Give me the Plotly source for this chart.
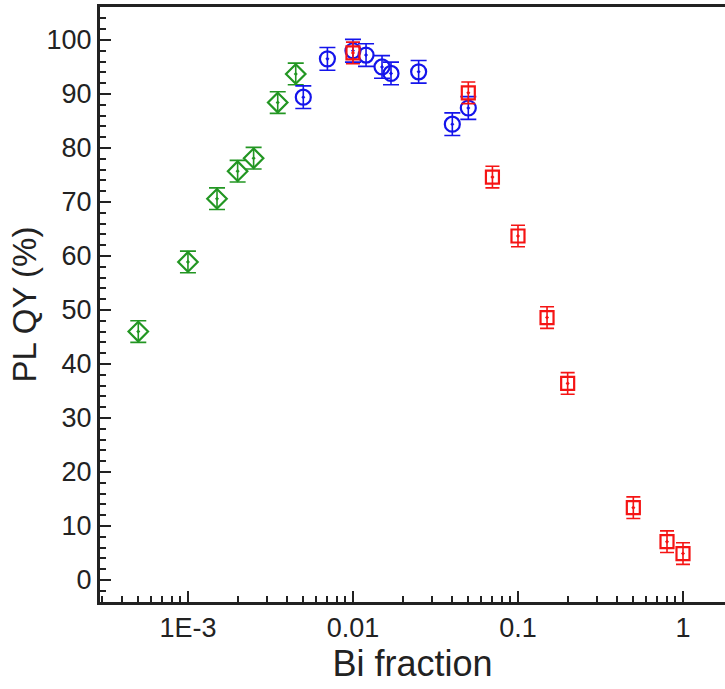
import numpy as np
import plotly.graph_objects as go

# Green diamonds
green_x = [5e-4, 1e-3, 1.5e-3, 2e-3, 2.5e-3, 3.5e-3, 4.5e-3]
green_y = [46.0, 58.9, 70.6, 75.7, 78.1, 88.4, 93.7]
green_err = [2, 2, 2, 2, 2, 2, 2]

# Blue circles
blue_x = [5e-3, 7e-3, 0.01, 0.012, 0.015, 0.017, 0.025, 0.04, 0.05]
blue_y = [89.4, 96.5, 98.0, 97.2, 95.0, 93.8, 94.1, 84.4, 87.4]
blue_err = [2.1, 2.1, 2.1, 2.1, 2.1, 2.1, 2.1, 2.1, 2.1]

# Red squares
red_x = [0.01, 0.05, 0.07, 0.1, 0.15, 0.2, 0.5, 0.8, 1.0]
red_y = [97.6, 90.2, 74.6, 63.7, 48.6, 36.4, 13.4, 7.1, 4.9]
red_err = [2, 2, 2, 2, 2, 2, 2, 2, 2]

x_tickvals = [1e-3, 1e-2, 1e-1, 1]
x_ticktext = ["1E-3", "0.01", "0.1", "1"]
x_minor = [m * 10.0 ** e for e in range(-4, 1) for m in range(2, 10)]
y_tickvals = list(range(0, 101, 10))

GREEN = "rgb(34,150,34)"
BLUE = "rgb(20,20,235)"
RED = "rgb(245,20,20)"

fig = go.Figure()

def add(xs, ys, errs, color, symbol, size, capw):
    fig.add_trace(go.Scatter(
        x=xs, y=ys, mode="markers",
        marker=dict(symbol=symbol, size=size, color=color,
                    line=dict(color=color, width=2.2)),
        error_y=dict(type="data", array=errs, visible=True,
                     color=color, thickness=1.6, width=capw),
        showlegend=False,
    ))

add(green_x, green_y, green_err, GREEN, "diamond-open-dot", 15, 8)
add(blue_x, blue_y, blue_err, BLUE, "circle-open-dot", 15, 8)
add(red_x, red_y, red_err, RED, "square-open-dot", 13, 7)

fig.update_layout(
    width=725, height=689,
    margin=dict(l=100, r=0, t=7, b=87, autoexpand=False),
    plot_bgcolor="white", paper_bgcolor="white",
    font=dict(family="Liberation Sans, Arial, sans-serif", color="#222"),
)

fig.update_xaxes(
    type="log", range=[-3.533, 0.2545], automargin=False,
    tickvals=x_tickvals, ticktext=x_ticktext,
    ticks="inside", ticklen=11, tickwidth=2, tickcolor="#222",
    minor=dict(tickvals=x_minor, ticks="inside", ticklen=6, tickwidth=2,
               tickcolor="#222", showgrid=False),
    showline=True, linewidth=3, linecolor="#222", mirror=True,
    showgrid=False, zeroline=False,
    tickfont=dict(size=27),
    title=dict(text="Bi fraction", font=dict(size=36), standoff=6),
)
fig.update_yaxes(
    range=[-4.07, 106.1], automargin=False,
    tickvals=y_tickvals,
    ticks="inside", ticklen=11, tickwidth=2, tickcolor="#222",
    minor=dict(dtick=2, ticks="inside", ticklen=6, tickwidth=2,
               tickcolor="#222", showgrid=False),
    showline=True, linewidth=3, linecolor="#222", mirror=False,
    showgrid=False, zeroline=False,
    tickfont=dict(size=27),
    title=dict(text="PL QY (%)", font=dict(size=33), standoff=0),
)

fig.write_html(
    "out.html",
    config={"displayModeBar": False},
    post_script="document.body.style.margin='0';document.body.style.overflow='hidden';",
)
